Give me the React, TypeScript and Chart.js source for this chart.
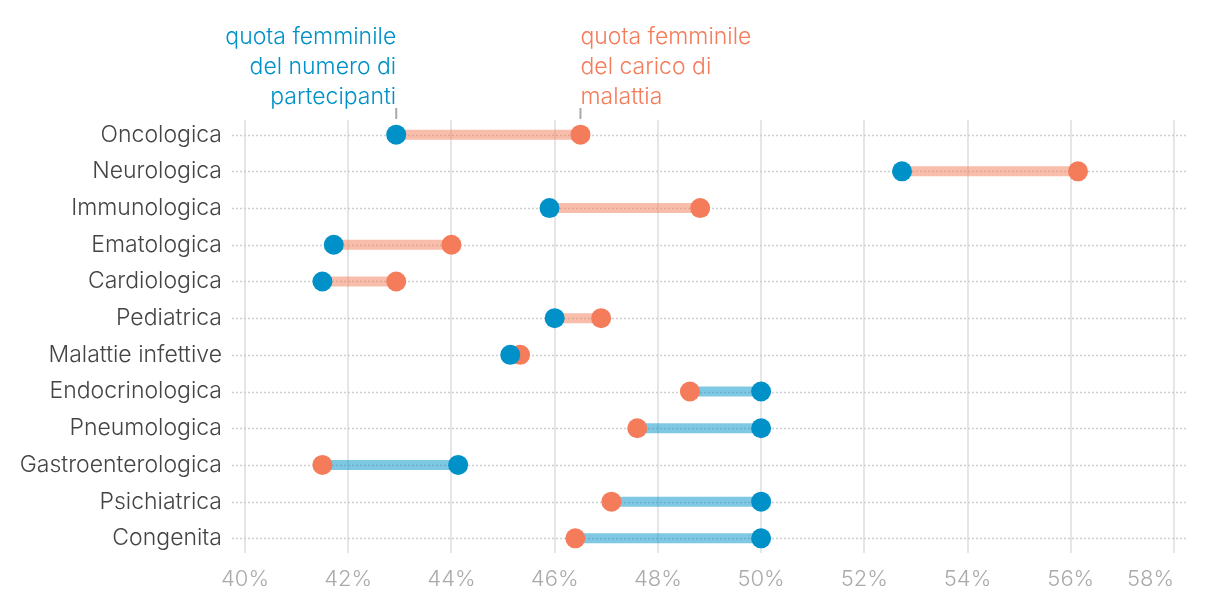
import { useEffect, useRef } from 'react';
import { Chart, registerables } from 'chart.js';

Chart.register(...registerables);

const categories = [
  'Oncologica',
  'Neurologica',
  'Immunologica',
  'Ematologica',
  'Cardiologica',
  'Pediatrica',
  'Malattie infettive',
  'Endocrinologica',
  'Pneumologica',
  'Gastroenterologica',
  'Psichiatrica',
  'Congenita',
];
// female share of participants (blue)
const participantShare = [42.93, 52.73, 45.9, 41.72, 41.5, 46.0, 45.14, 50.0, 50.0, 44.13, 50.0, 50.0];
// female share of disease burden (orange)
const burdenShare = [46.5, 56.14, 48.82, 44.0, 42.93, 46.9, 45.33, 48.62, 47.6, 41.5, 47.1, 46.4];
const xTickValues = [40, 42, 44, 46, 48, 50, 52, 54, 56, 58];
const participantLabel = ['quota femminile', 'del numero di', 'partecipanti'];
const burdenLabel = ['quota femminile', 'del carico di', 'malattia'];

const BLUE = '#0091c8';
const ORANGE = '#f47c5a';
const BLUE_LIGHT = 'rgba(0,145,200,0.5)';
const ORANGE_LIGHT = 'rgba(244,124,90,0.5)';
const FONT = 'Inter, "Noto Sans", sans-serif';

export default function App() {
  const ref = useRef<HTMLCanvasElement | null>(null);

  useEffect(() => {
    document.body.style.margin = '0';
    const canvas = ref.current;
    if (!canvas) return;

    const decor = {
      id: 'decor',
      beforeDatasetsDraw(chart: any) {
        const { ctx, chartArea, scales } = chart;
        ctx.save();
        ctx.strokeStyle = '#cfcfcf';
        ctx.lineWidth = 1.5;
        ctx.setLineDash([2, 2]);
        categories.forEach((_, i) => {
          const y = Math.round(scales.y.getPixelForValue(i)) + 0.5;
          ctx.beginPath();
          ctx.moveTo(chartArea.left - 13, y);
          ctx.lineTo(chartArea.right + 12, y);
          ctx.stroke();
        });
        ctx.restore();
      },
      afterDraw(chart: any) {
        const { ctx, chartArea, scales } = chart;
        ctx.save();
        // x tick labels
        ctx.font = `300 22px ${FONT}`;
        ctx.fillStyle = '#aaaaaa';
        ctx.textBaseline = 'middle';
        xTickValues.forEach((v, i) => {
          const x = scales.x.getPixelForValue(v);
          ctx.textAlign = i === xTickValues.length - 1 ? 'right' : 'center';
          ctx.fillText(v + '%', x, chartArea.bottom + 26);
        });
        // annotations
        const bx = scales.x.getPixelForValue(participantShare[0]);
        const ox = scales.x.getPixelForValue(burdenShare[0]);
        ctx.font = `300 23px ${FONT}`;
        ctx.textBaseline = 'alphabetic';
        ctx.fillStyle = BLUE;
        ctx.textAlign = 'right';
        participantLabel.forEach((t, i) => ctx.fillText(t, bx, 44 + i * 30));
        ctx.fillStyle = ORANGE;
        ctx.textAlign = 'left';
        burdenLabel.forEach((t, i) => ctx.fillText(t, ox, 44 + i * 30));
        ctx.strokeStyle = '#aaaaaa';
        ctx.lineWidth = 2;
        [bx, ox].forEach((x) => {
          ctx.beginPath();
          ctx.moveTo(x, 108);
          ctx.lineTo(x, 119);
          ctx.stroke();
        });
        ctx.restore();
      },
    };

    const connectors = categories.map((_, i) => ({
      type: 'line' as const,
      data: [
        { x: participantShare[i], y: i },
        { x: burdenShare[i], y: i },
      ],
      borderColor: burdenShare[i] > participantShare[i] ? ORANGE_LIGHT : BLUE_LIGHT,
      borderWidth: 10,
      pointRadius: 0,
      pointHoverRadius: 0,
      fill: false,
      order: 3,
    }));

    const chart = new Chart(canvas, {
      type: 'scatter',
      data: {
        datasets: [
          {
            type: 'scatter',
            label: 'partecipanti',
            data: participantShare.map((v, i) => ({ x: v, y: i })),
            backgroundColor: BLUE,
            borderWidth: 0,
            pointRadius: 10,
            order: 1,
          },
          {
            type: 'scatter',
            label: 'carico di malattia',
            data: burdenShare.map((v, i) => ({ x: v, y: i })),
            backgroundColor: ORANGE,
            borderWidth: 0,
            pointRadius: 10,
            order: 2,
          },
          ...connectors,
        ] as any,
      },
      options: {
        animation: false,
        responsive: false,
        maintainAspectRatio: false,
        layout: { padding: { left: 0, right: 46, top: 120, bottom: 0 } },
        plugins: { legend: { display: false }, tooltip: { enabled: false } },
        scales: {
          x: {
            type: 'linear',
            min: 40,
            max: 58,
            afterBuildTicks: (s: any) => {
              s.ticks = xTickValues.map((v) => ({ value: v }));
            },
            afterFit: (s: any) => {
              s.height = 49;
            },
            ticks: { display: false },
            grid: { color: '#e6e6e6', lineWidth: 2, drawTicks: false },
            border: { display: false },
          },
          y: {
            type: 'linear',
            reverse: true,
            min: -0.4,
            max: 11.4,
            afterBuildTicks: (s: any) => {
              s.ticks = categories.map((_, i) => ({ value: i }));
            },
            afterFit: (s: any) => {
              s.width = 245;
            },
            ticks: {
              callback: (v: any) => categories[v] ?? '',
              color: '#444444',
              padding: 23,
              font: { family: FONT, size: 23, weight: 300 as any },
            },
            grid: { display: false, drawTicks: false },
            border: { display: false },
          },
        },
      },
      plugins: [decor],
    });

    return () => chart.destroy();
  }, []);

  return (
    <div style={{ position: 'fixed', left: 0, top: 0, width: 1220, height: 602 }}>
      <canvas ref={ref} width={1220} height={602} style={{ width: 1220, height: 602 }} />
    </div>
  );
}
